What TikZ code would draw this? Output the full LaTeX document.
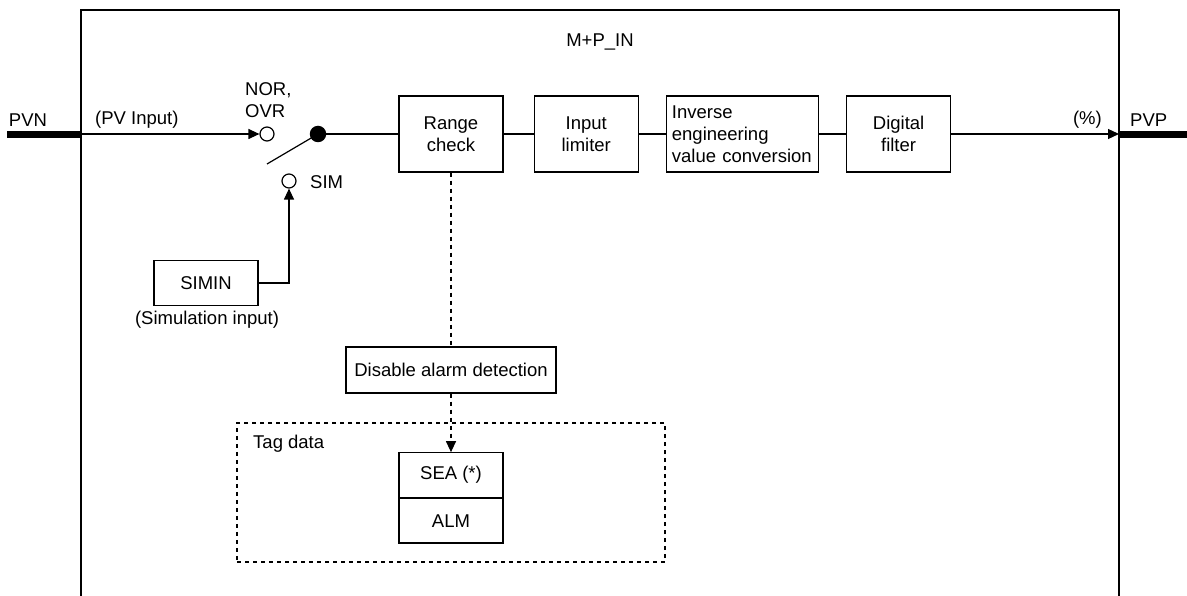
\documentclass[tikz,border=0pt]{standalone}
\usepackage{fontspec}
\setmainfont{Liberation Sans}
\usetikzlibrary{arrows.meta, positioning}
\newcommand{\lblfont}{\fontsize{18.5}{22}\selectfont}
\tikzset{
	blk/.style={rectangle, draw, line width=1.2pt, align=center, minimum width=104pt, minimum height=76pt, font=\lblfont},
	smallblk/.style={rectangle, draw, line width=1.2pt, align=center, minimum width=104pt, minimum height=44.5pt, font=\lblfont},
	lbl/.style={inner sep=0pt, font=\lblfont},
	port/.style={circle, draw, fill=white, line width=1.2pt, minimum size=14pt, inner sep=0pt},
	wire/.style={line width=1.2pt},
	arrow/.style={-{Triangle[length=11pt, width=10pt]}, line width=1.2pt},
	busline/.style={line width=7pt},
	dashline/.style={line width=1.2pt, dash pattern=on 4pt off 4pt},
}
\begin{document}
\begin{tikzpicture}[x=1pt, y=-1pt, node distance=27pt]
	\useasboundingbox (0,0) rectangle (1187,596);
	% outer frame of the function block
	\draw[wire] (81,596) -- (81,10) -- (1119,10) -- (1119,596);
	\node[lbl] (title) at (600,42) {M+P\_IN};
	% input / output terminals
	\coordinate (pvnend) at (7,134.5);
	\coordinate (pvnin) at (81,134);
	\coordinate (pvpin) at (1119,134);
	\coordinate (pvpend) at (1187,134.5);
	\draw[busline] (pvnend) -- (81,134.5);
	\draw[busline] (1119,134.5) -- (pvpend);
	\node[lbl, anchor=center] (pvn) at (28,120) {PVN};
	\node[lbl, anchor=west] (pvp) at (1130,120) {PVP};
	\node[lbl, anchor=west] (pvinput) at (95,120) {(PV Input)};
	\node[lbl, anchor=east] (pct) at (1102,120) {(\%)};
	% switch
	\node[port] (nor) at (267,134) {};
	\node[port] (sim) at (289,181) {};
	\node[circle, fill, minimum size=16.5pt, inner sep=0pt] (pivot) at (318,134) {};
	\coordinate (lever) at (267,164);
	\node[lbl, anchor=west, align=left] (norlbl) at (245,100) {NOR,\\OVR};
	\node[lbl, anchor=west] (simlbl) at (310,182) {SIM};
	\draw[arrow] (pvnin) -- (nor.west);
	\draw[wire] (pivot.center) -- (lever);
	% simulation input
	\node[smallblk, minimum height=45pt] (simin) at (206,283) {SIMIN};
	\node[lbl] (simtxt) at (207,320) {(Simulation input)};
	\draw[arrow] (simin.east) -| (sim.south);
	% processing chain
	\node[blk] (range) at (451,134) {Range\\check};
	\node[blk, right=30pt of range] (limiter) {Input\\limiter};
	\node[blk, right=of limiter, minimum width=152pt, text width=141pt, inner sep=5pt, align=left] (inverse) {Inverse\\engineering\\value conversion};
	\node[blk, right=of inverse] (filter) {Digital\\filter};
	\draw[wire] (pivot.center) -- (range);
	\draw[wire] (range) -- (limiter);
	\draw[wire] (limiter) -- (inverse);
	\draw[wire] (inverse) -- (filter);
	\draw[arrow] (filter) -- (pvpin);
	% alarm detection
	\node[blk, minimum width=210pt, minimum height=46pt] (disable) at (451,370) {Disable alarm detection};
	\draw[dashline] (range) -- (disable);
	% tag data
	\node[draw, dashline, minimum width=428pt, minimum height=139pt] (tagbox) at (451,492.5) {};
	\node[lbl, anchor=west] (taglbl) at (253,444) {Tag data};
	\node[smallblk] (sea) at (451,475) {SEA (*)};
	\node[smallblk, below=0pt of sea] (alm) {ALM};
	\draw[arrow, dash pattern=on 4pt off 4pt] (disable) -- (sea);
\end{tikzpicture}
\end{document}
